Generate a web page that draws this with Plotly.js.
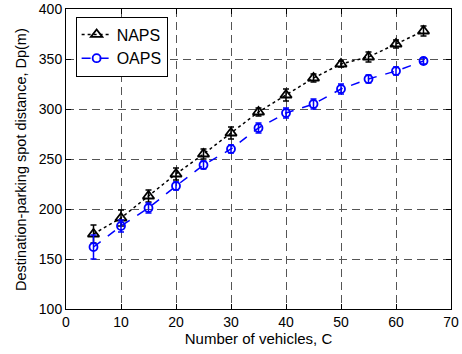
<!DOCTYPE html>
<html><head><meta charset="utf-8">
<script src="https://cdn.plot.ly/plotly-3.0.1.min.js"></script>
<style>body{margin:0;background:#fff}#c{width:462px;height:354px}</style>
</head><body><div id="c"></div>
<script>
var vehicles = [5,10,15,20,25,30,35,40,45,50,55,60,65];
var napsMean = [175,191,213,235,255,276,297,314,331,345,352,365,378];
var napsErr  = [9,8,6,6,5,6,4,6,4,3,5,4,5];
var oapsMean = [162,183,201,223,244,260,281,296,305,320,330,338,348];
var oapsErr  = [12,6,5,4,4,4,5,5,5,5,4,4,3];
var xTicks = [0,10,20,30,40,50,60,70];
var yTicks = [100,150,200,250,300,350,400];

var F = 'Liberation Sans, Arial, sans-serif';
var traces = [
 {x: vehicles, y: napsMean, name: 'NAPS', mode: 'lines+markers',
  line: {color: '#000', dash: 'dot', width: 1.5},
  marker: {symbol: 'triangle-up-open', size: 10, color: '#000', line: {width: 1.8}},
  error_y: {type: 'data', array: napsErr, color: '#000', thickness: 1.5, width: 3}},
 {x: vehicles, y: oapsMean, name: 'OAPS', mode: 'lines+markers',
  line: {color: '#0000ff', dash: 'dash', width: 1.5},
  marker: {symbol: 'circle-open', size: 8, color: '#0000ff', line: {width: 1.8}},
  error_y: {type: 'data', array: oapsErr, color: '#0000ff', thickness: 1.5, width: 3}}
];
var ax = {
  showline: true, linecolor: '#000', linewidth: 1, mirror: 'allticks',
  ticks: 'inside', ticklen: 5, tickcolor: '#000',
  showgrid: true, gridcolor: '#555', griddash: '8px,5px', gridwidth: 1,
  zeroline: false, tickfont: {family: F, size: 14, color: '#000'}
};
var layout = {
  width: 462, height: 354,
  margin: {l: 66, r: 11, t: 9, b: 45},
  paper_bgcolor: '#fff', plot_bgcolor: '#fff',
  showlegend: true,
  legend: {x: 0.025, y: 0.975, xanchor: 'left', yanchor: 'top', bordercolor: '#000', borderwidth: 1,
    bgcolor: '#fff', font: {family: F, size: 16, color: '#000'}, tracegroupgap: 0},
  xaxis: Object.assign({}, ax, {range: [0,70], tickvals: xTicks, ticktext: xTicks.map(String),
    title: {text: 'Number of vehicles, C', standoff: 0, font: {family: F, size: 15, color: '#000'}}}),
  yaxis: Object.assign({}, ax, {range: [100,400], tickvals: yTicks, ticktext: yTicks.map(String)}),
  annotations: [{text: 'Destination-parking spot distance, Dp(m)', textangle: -90,
    xref: 'paper', yref: 'paper', x: -0.117, y: 0.5, xanchor: 'center', yanchor: 'middle',
    showarrow: false, font: {family: F, size: 14.5, color: '#000'}}]
};
Plotly.newPlot('c', traces, layout, {staticPlot: true, displayModeBar: false});
</script></body></html>
